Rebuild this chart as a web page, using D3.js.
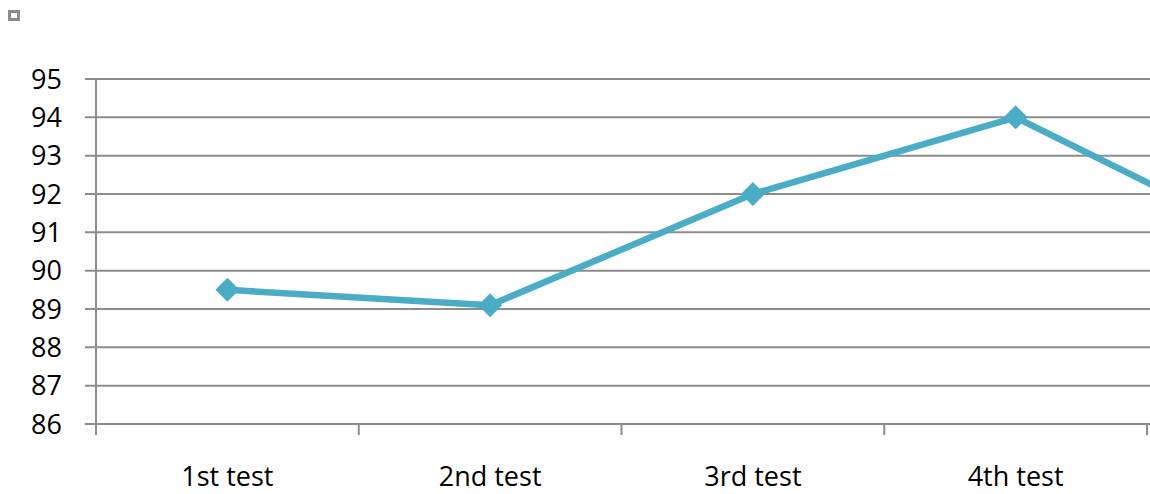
<!DOCTYPE html>
<html>
<head>
<meta charset="utf-8">
<script src="https://cdn.jsdelivr.net/npm/d3@7"></script>
<style>
  html, body { margin: 0; padding: 0; background: #fff; overflow: hidden; }
  svg { display: block; }
  text { font-family: "Open Sans", "Liberation Sans", sans-serif; fill: #000; }
</style>
</head>
<body>
<script>
// Test scores per round
const categories = ["1st test", "2nd test", "3rd test", "4th test", "5th test"];
const scores = [89.5, 89.1, 92, 94, 90.6];
const yTicks = [86, 87, 88, 89, 90, 91, 92, 93, 94, 95];

const width = 1450, height = 494;
const plot = { left: 96, top: 79, bottom: 424, bandWidth: 262.75 };

const svg = d3.select("body").append("svg")
  .attr("width", width)
  .attr("height", height);

const x = d3.scaleBand()
  .domain(categories)
  .range([plot.left, plot.left + plot.bandWidth * categories.length]);

const y = d3.scaleLinear()
  .domain([86, 95])
  .range([plot.bottom, plot.top]);

// Small legend marker in the corner
svg.append("rect")
  .attr("x", 9.5).attr("y", 11.5)
  .attr("width", 9).attr("height", 8)
  .attr("fill", "#fff")
  .attr("stroke", "#8c8c8c")
  .attr("stroke-width", 3);

// Horizontal gridlines with small outward ticks
svg.append("g")
  .selectAll("line")
  .data(yTicks)
  .join("line")
  .attr("x1", plot.left - 11)
  .attr("x2", x.range()[1])
  .attr("y1", d => y(d))
  .attr("y2", d => y(d))
  .attr("stroke", "#8c8c8c")
  .attr("stroke-width", 2);

// Y-axis labels
svg.append("g")
  .selectAll("text")
  .data(yTicks)
  .join("text")
  .attr("x", 62)
  .attr("y", d => y(d))
  .attr("dy", "0.36em")
  .attr("text-anchor", "end")
  .attr("font-size", 27)
  .text(d => d);

// Vertical axis line
svg.append("line")
  .attr("x1", plot.left).attr("x2", plot.left)
  .attr("y1", plot.top).attr("y2", plot.bottom + 11)
  .attr("stroke", "#8c8c8c")
  .attr("stroke-width", 2);

// Category boundary ticks below the axis
const boundaries = categories.map(c => x(c)).concat([x.range()[1]]).slice(1);
svg.append("g")
  .selectAll("line")
  .data(boundaries)
  .join("line")
  .attr("x1", d => d).attr("x2", d => d)
  .attr("y1", plot.bottom).attr("y2", plot.bottom + 11)
  .attr("stroke", "#8c8c8c")
  .attr("stroke-width", 2);

// Category labels
svg.append("g")
  .selectAll("text")
  .data(categories)
  .join("text")
  .attr("x", d => x(d) + x.bandwidth() / 2)
  .attr("y", 486)
  .attr("text-anchor", "middle")
  .attr("font-size", 27)
  .text(d => d);

const cx = (d, i) => x(categories[i]) + x.bandwidth() / 2;

// Score line
svg.append("path")
  .datum(scores)
  .attr("fill", "none")
  .attr("stroke", "#4bacc6")
  .attr("stroke-width", 6.5)
  .attr("stroke-linejoin", "round")
  .attr("d", d3.line().x(cx).y(d => y(d)));

// Diamond markers
svg.append("g")
  .selectAll("path")
  .data(scores)
  .join("path")
  .attr("transform", (d, i) => `translate(${cx(d, i)},${y(d)})`)
  .attr("d", "M0,-12L12,0L0,12L-12,0Z")
  .attr("fill", "#4bacc6");
</script>
</body>
</html>
